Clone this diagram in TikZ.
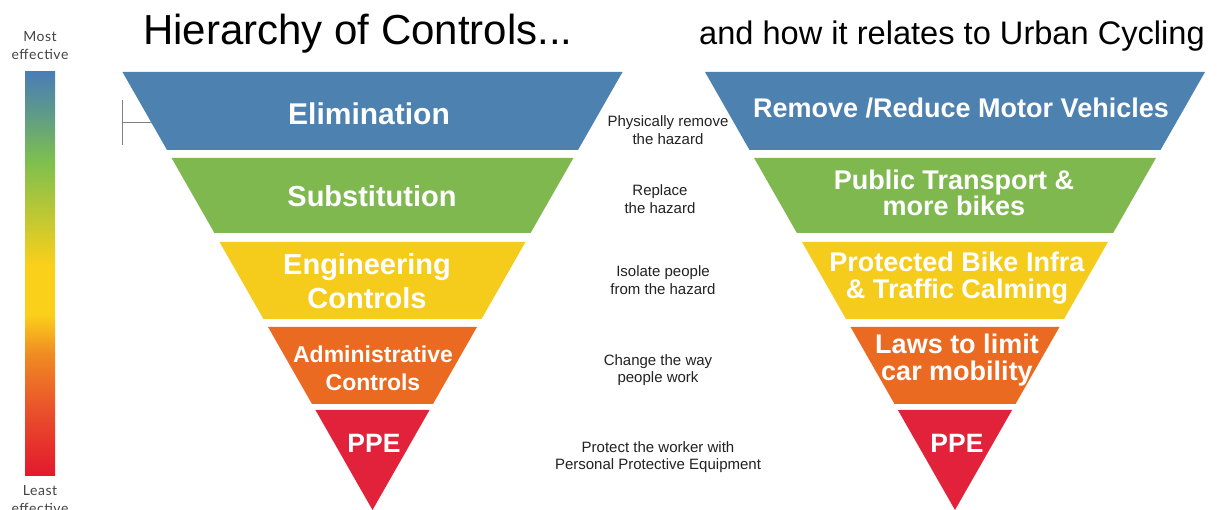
\documentclass[tikz,border=0pt]{standalone}
\usepackage{fontspec}
\setmainfont{Liberation Sans}
\newfontfamily\barfont[LetterSpace=4]{Lato}
\definecolor{cblue}{HTML}{4C81B0}
\definecolor{cgreen}{HTML}{80B850}
\definecolor{cyellow}{HTML}{F6CC1C}
\definecolor{corange}{HTML}{EB6A22}
\definecolor{cred}{HTML}{E2223A}
\definecolor{barblue}{HTML}{4A7DB5}
\definecolor{barteal}{HTML}{5E9A8A}
\definecolor{bargreen}{HTML}{7DBF4E}
\definecolor{baryellow}{HTML}{FBD01A}
\definecolor{barorange}{HTML}{F08A22}
\definecolor{barredor}{HTML}{E9502B}
\definecolor{barred}{HTML}{E3182D}
\definecolor{desc}{HTML}{222222}
\definecolor{bargray}{HTML}{444444}
\pgfdeclareverticalshading{effbar}{100bp}{color(0bp)=(barred); color(25bp)=(barred); color(33bp)=(barredor); color(40bp)=(barorange); color(45bp)=(baryellow); color(51bp)=(baryellow); color(64bp)=(bargreen); color(70bp)=(barteal); color(75bp)=(barblue); color(100bp)=(barblue)}
\newcommand{\hband}[4]{% cx, ytop, ybottom, colour
  \fill[#4] ({#1-(510-#2)*0.5708},#2) -- ({#1+(510-#2)*0.5708},#2) -- ({#1+(510-#3)*0.5708},#3) -- ({#1-(510-#3)*0.5708},#3) -- cycle;}
\tikzset{
  lbl/.style={text=white, font=\bfseries\fontsize{#1}{#1}\selectfont, align=center, inner sep=0pt},
  desctext/.style={text=desc, font=\fontsize{15}{17.5}\selectfont, align=center, inner sep=0pt},
  bartext/.style={text=bargray, font=\barfont\fontsize{14}{18}\selectfont, align=center, inner sep=0pt},
  title/.style={text=black, font=\fontsize{#1}{#1}\selectfont, anchor=base west, inner sep=0pt},
}
\begin{document}
\begin{tikzpicture}[x=1pt,y=-1pt]
\useasboundingbox (0,0) rectangle (1219,510);
\clip (0,0) rectangle (1219,510);
\fill[white] (0,0) rectangle (1219,510);
% titles
\node[title=42] (t1) at (143,45) {Hierarchy of Controls...};
\node[title=32.6] (t2) at (699,45) {and how it relates to Urban Cycling};
% effectiveness bar
\shade[shading=effbar] (25,72) rectangle (55,476);
\node[bartext] (most) at (40,46) {Most\\effective};
\node[bartext] (least) at (40,500) {Least\\effective};
% bracket
\coordinate (bt) at (122,100);
\coordinate (bb) at (122,145);
\coordinate (bm) at (122,123);
\coordinate (be) at (155,123);
\draw[gray, line width=1pt] (bt) -- (bb) (bm) -- (be);
% left pyramid
\hband{372.5}{72}{150}{cblue}
\hband{372.5}{158}{233}{cgreen}
\hband{372.5}{242}{319}{cyellow}
\hband{372.5}{327}{404}{corange}
\hband{372.5}{410}{510}{cred}
% right pyramid
\hband{955}{72}{150}{cblue}
\hband{955}{158}{233}{cgreen}
\hband{955}{242}{319}{cyellow}
\hband{955}{327}{404}{corange}
\hband{955}{410}{510}{cred}
% left labels
\node[lbl=30] (elim) at (369,114) {Elimination};
\node[lbl=29] (subst) at (372,196) {Substitution};
\node[lbl=29, font=\bfseries\fontsize{29}{34}\selectfont] (eng) at (367,281) {Engineering\\Controls};
\node[lbl=23, font=\bfseries\fontsize{23}{28}\selectfont] (adm) at (373,368) {Administrative\\Controls};
\node[lbl=26.5] (ppel) at (374,443) {PPE};
% right labels
\node[lbl=27] (remove) at (961,108) {Remove /Reduce Motor Vehicles};
\node[lbl=27, font=\bfseries\fontsize{27}{26.5}\selectfont] (pub) at (954,193) {Public Transport \&\\more bikes};
\node[lbl=27, font=\bfseries\fontsize{27}{26.5}\selectfont] (prot) at (957,278) {Protected Bike Infra\\\& Traffic Calming};
\node[lbl=27, font=\bfseries\fontsize{27}{26.5}\selectfont] (laws) at (957,360) {Laws to limit\\car mobility};
\node[lbl=26.5] (pper) at (957,443) {PPE};
% descriptions
\node[desctext] (d1) at (668,130) {Physically remove\\the hazard};
\node[desctext] (d2) at (660,199) {Replace\\the hazard};
\node[desctext] (d3) at (663,280) {Isolate people\\from the hazard};
\node[desctext] (d4) at (658,370) {Change the way\\people work};
\node[desctext] (d5) at (658,457) {Protect the worker with\\Personal Protective Equipment};
\end{tikzpicture}
\end{document}
